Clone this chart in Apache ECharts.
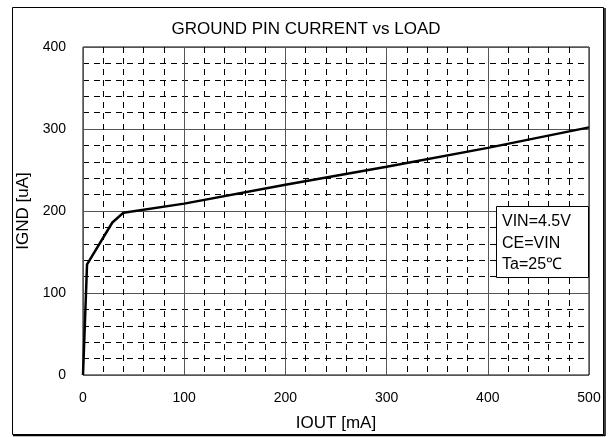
<!DOCTYPE html>
<html><head><meta charset="utf-8">
<script src="https://cdn.jsdelivr.net/npm/echarts@6/dist/echarts.min.js"></script>
<style>html,body{margin:0;padding:0;background:#fff}#c{width:612px;height:437px}</style>
</head><body><div id="c"></div>
<script>
const titleText = 'GROUND PIN CURRENT vs LOAD';
const xName = 'IOUT [mA]';
const yName = 'IGND [uA]';
const iout = [0, 4, 29, 40, 100, 200, 300, 400, 500];
const ignd = [0, 135, 186, 198, 209, 232, 254, 277, 302];
const noteLines = ['VIN=4.5V', 'CE=VIN', 'Ta=25℃'];

const FONT = 'Liberation Sans, Arial, sans-serif';
const chart = echarts.init(document.getElementById('c'), null, {renderer: 'canvas'});
const minor = {show: true, lineStyle: {color: '#000', width: 1, type: [6, 5]}};
chart.setOption({
  animation: false,
  backgroundColor: '#fff',
  title: [
    {text: titleText, left: 'center', top: 16,
      textStyle: {fontFamily: FONT, fontSize: 17, fontWeight: 'normal', color: '#000'}},
    {text: noteLines.join('\n'), left: 496, top: 206, z: 20,
      backgroundColor: '#fff', borderColor: '#000', borderWidth: 1,
      padding: [5, 18, 2, 6],
      textStyle: {fontFamily: FONT, fontSize: 16, fontWeight: 'normal', color: '#000', lineHeight: 21.5}}
  ],
  grid: {left: 83, right: 23, top: 47, bottom: 62, show: true, borderColor: '#000', borderWidth: 1},
  xAxis: {type: 'value', min: 0, max: 500, interval: 100,
    name: xName, nameLocation: 'middle', nameGap: 40,
    nameTextStyle: {fontFamily: FONT, fontSize: 17, color: '#000'},
    axisLine: {show: false}, axisTick: {show: false},
    axisLabel: {fontFamily: FONT, fontSize: 14, color: '#000', margin: 16},
    splitLine: {show: true, lineStyle: {color: '#555', width: 1}},
    minorTick: {show: false, splitNumber: 5},
    minorSplitLine: minor},
  yAxis: {type: 'value', min: 0, max: 400, interval: 100,
    name: yName, nameLocation: 'middle', nameGap: 50,
    nameTextStyle: {fontFamily: FONT, fontSize: 17, color: '#000'},
    axisLine: {show: false}, axisTick: {show: false},
    axisLabel: {fontFamily: FONT, fontSize: 14, color: '#000', margin: 17},
    splitLine: {show: true, lineStyle: {color: '#555', width: 1}},
    minorTick: {show: false, splitNumber: 5},
    minorSplitLine: minor},
  series: [{type: 'line', data: iout.map((x, i) => [x, ignd[i]]),
    symbol: 'none', lineStyle: {color: '#000', width: 2.5}, z: 5}],
  graphic: [
    {type: 'rect', z: 100, shape: {x: 12.5, y: 7.5, width: 591, height: 427}, style: {fill: 'none', stroke: '#000', lineWidth: 1}},
    {type: 'line', z: 100, shape: {x1: 605, y1: 8, x2: 605, y2: 436}, style: {stroke: '#000', lineWidth: 1.5}},
    {type: 'line', z: 100, shape: {x1: 13, y1: 435.5, x2: 605, y2: 435.5}, style: {stroke: '#000', lineWidth: 1.5}}
  ]
});
</script></body></html>
